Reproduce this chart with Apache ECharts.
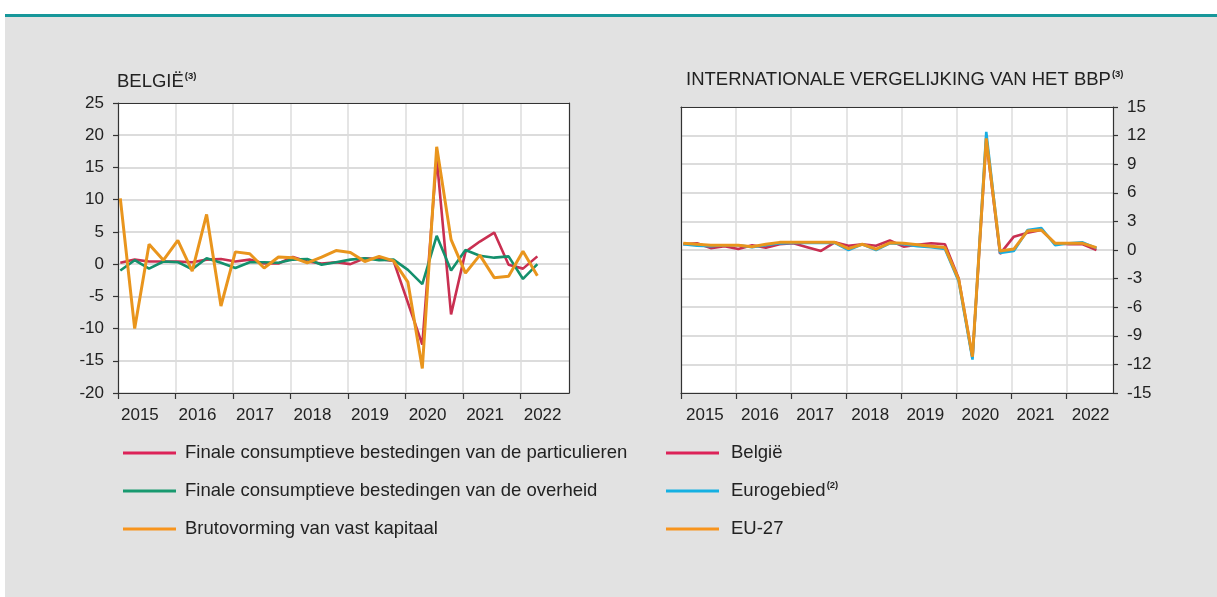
<!DOCTYPE html>
<html>
<head>
<meta charset="utf-8">
<script src="https://cdn.jsdelivr.net/npm/echarts@6/dist/echarts.min.js"></script>
<style>
  html, body { margin: 0; padding: 0; width: 1217px; height: 597px; background: #fff; overflow: hidden; }
  #bg { position: absolute; left: 5px; top: 14px; right: 0; bottom: 0; border-top: 3px solid #17979a; background: #e2e2e2; }
  #chart { position: absolute; left: 0; top: 0; width: 1217px; height: 597px; }
</style>
</head>
<body>
<div id="bg"></div>
<div id="chart"></div>
<script>
// ---------- data ----------
const quartersBE = ['2015K1','2015K2','2015K3','2015K4','2016K1','2016K2','2016K3','2016K4',
  '2017K1','2017K2','2017K3','2017K4','2018K1','2018K2','2018K3','2018K4',
  '2019K1','2019K2','2019K3','2019K4','2020K1','2020K2','2020K3','2020K4',
  '2021K1','2021K2','2021K3','2021K4','2022K1','2022K2'];
const quartersINT = quartersBE.concat(['2022K3']);
const yearTicks = [2015, 2016, 2017, 2018, 2019, 2020, 2021, 2022];
const leftYTicks = { min: -20, max: 25, step: 5 };
const rightYTicks = { min: -15, max: 15, step: 3 };

const particulieren = [0.2, 0.7, 0.4, 0.4, 0.4, 0.3, 0.7, 0.8, 0.4, 0.7, 0.1, 0.1, 1.1, 0.4, 0.1, 0.3,
  0.0, 0.9, 0.8, 0.5, -6.0, -12.5, 16.5, -7.8, 1.9, 3.5, 4.9, -0.1, -0.7, 1.2];
const overheid = [-1.0, 0.6, -0.7, 0.4, 0.3, -0.8, 0.9, 0.2, -0.6, 0.3, 0.3, 0.2, 0.7, 0.8, -0.1, 0.3,
  0.7, 0.9, 0.6, 0.7, -0.9, -3.1, 4.4, -1.0, 2.2, 1.3, 1.0, 1.2, -2.3, 0.0];
const brutovorming = [10.2, -10.0, 3.1, 0.6, 3.7, -1.1, 7.7, -6.5, 1.9, 1.6, -0.6, 1.1, 1.0, 0.2, 1.1, 2.1,
  1.8, 0.4, 1.2, 0.5, -2.8, -16.2, 18.2, 3.8, -1.4, 1.4, -2.1, -1.9, 2.0, -1.8];

const belgie = [0.6, 0.7, 0.2, 0.4, 0.1, 0.5, 0.25, 0.6, 0.7, 0.3, -0.1, 0.8, 0.45, 0.6, 0.45, 1.0,
  0.35, 0.55, 0.7, 0.6, -3.0, -11.3, 11.5, -0.4, 1.4, 1.8, 2.1, 0.7, 0.6, 0.6, 0.0];
const eurogebied = [0.6, 0.45, 0.4, 0.5, 0.5, 0.3, 0.5, 0.7, 0.75, 0.75, 0.75, 0.75, 0.0, 0.6, 0.0, 0.7,
  0.6, 0.4, 0.3, 0.1, -3.3, -11.5, 12.4, -0.3, -0.1, 2.1, 2.3, 0.5, 0.7, 0.8, 0.2];
const eu27 = [0.7, 0.6, 0.5, 0.5, 0.5, 0.35, 0.6, 0.8, 0.8, 0.8, 0.8, 0.8, 0.15, 0.6, 0.1, 0.75,
  0.7, 0.55, 0.4, 0.25, -3.1, -11.2, 11.7, -0.1, 0.1, 2.0, 2.1, 0.7, 0.7, 0.7, 0.25];

const namesLeft = ['Finale consumptieve bestedingen van de particulieren',
  'Finale consumptieve bestedingen van de overheid', 'Brutovorming van vast kapitaal'];
const namesRight = ['België', 'Eurogebied', 'EU-27'];

// ---------- helpers ----------
const FONT = 'Liberation Sans, Arial, sans-serif';
const TXT = '#222';
function qx(label) {
  const y = parseInt(label.slice(0, 4), 10);
  const q = parseInt(label.slice(5), 10);
  return y + (q - 1) / 4 + 0.04;
}
function pairs(cats, vals) { return cats.map((c, i) => [qx(c), vals[i]]); }

const colRed = '#c92f51', colGreen = '#14906c', colOrange = '#e9951d', colBlue = '#18ade2';
const legRed = '#dc2258', legGreen = '#18996f', legOrange = '#f7941d', legBlue = '#15b0e2';

const grids = [
  { left: 118, top: 103, width: 451, height: 290, show: true, backgroundColor: '#fff', borderWidth: 0 },
  { left: 681, top: 107, width: 432, height: 286, show: true, backgroundColor: '#fff', borderWidth: 0 }
];
const XMAX = 2022.84;

function xMain(gi, pad) {
  return {
    type: 'value', gridIndex: gi, min: yearTicks[0], max: XMAX, interval: 1, position: 'bottom',
    axisLine: { show: true, onZero: false, lineStyle: { color: '#333', width: 1.2 } },
    axisTick: { show: true, length: 6, customValues: yearTicks, lineStyle: { color: '#333', width: 1.2 } },
    axisLabel: { customValues: yearTicks, formatter: v => String(v), align: 'left', padding: [0, 0, 0, pad],
      margin: 14, fontSize: 17, color: TXT, fontFamily: FONT },
    splitLine: { show: true, lineStyle: { color: '#dcdcdc', width: 1.5 } }
  };
}
function xTop(gi) {
  return { type: 'value', gridIndex: gi, min: yearTicks[0], max: XMAX, position: 'top', z: 5,
    axisLine: { show: true, onZero: false, lineStyle: { color: '#333', width: 1.2 } },
    axisTick: { show: false }, axisLabel: { show: false }, splitLine: { show: false } };
}
function yMain(gi, t, pos, margin) {
  return {
    type: 'value', gridIndex: gi, min: t.min, max: t.max, interval: t.step, position: pos,
    axisLine: { show: true, onZero: false, lineStyle: { color: '#333', width: 1.2 } },
    axisTick: { show: true, length: 5, lineStyle: { color: '#333', width: 1.2 } },
    axisLabel: { margin: margin, fontSize: 17, color: TXT, fontFamily: FONT },
    splitLine: { show: true, lineStyle: { color: '#dcdcdc', width: 2 } }
  };
}
function yBorder(gi, t, pos) {
  return { type: 'value', gridIndex: gi, min: t.min, max: t.max, position: pos, z: 5,
    axisLine: { show: true, onZero: false, lineStyle: { color: '#333', width: 1.2 } },
    axisTick: { show: false }, axisLabel: { show: false }, splitLine: { show: false } };
}

function lineSeries(name, xi, yi, cats, vals, color, w) {
  return { name, type: 'line', xAxisIndex: xi, yAxisIndex: yi, data: pairs(cats, vals),
    showSymbol: false, symbol: 'none', lineStyle: { color, width: w }, itemStyle: { color },
    emphasis: { disabled: true }, animation: false };
}

const supRich = {
  a: { fontSize: 18.5, fontWeight: 'normal', color: TXT, fontFamily: FONT, lineHeight: 22 },
  s: { fontSize: 9.5, fontWeight: 'bold', color: TXT, fontFamily: FONT, verticalAlign: 'top', lineHeight: 14, padding: [0, 0, 0, 1] }
};

const chart = echarts.init(document.getElementById('chart'), null, { renderer: 'canvas' });
chart.setOption({
  backgroundColor: 'transparent',
  animation: false,
  title: [
    { text: '{a|BELGIË}{s|(3)}', left: 117, top: 71, padding: 0,
      textStyle: { fontWeight: 'normal', fontSize: 18.5, rich: supRich } },
    { text: '{a|INTERNATIONALE VERGELIJKING VAN HET BBP}{s|(3)}', left: 686, top: 69, padding: 0,
      textStyle: { fontWeight: 'normal', fontSize: 18.5, rich: supRich } }
  ],
  grid: grids,
  xAxis: [xMain(0, 3), xTop(0), xMain(1, 5), xTop(1)],
  yAxis: [yMain(0, leftYTicks, 'left', 14), yBorder(0, leftYTicks, 'right'),
          yMain(1, rightYTicks, 'right', 14), yBorder(1, rightYTicks, 'left')],
  legend: [
    { data: namesLeft.map((n, i) => ({ name: n, itemStyle: { color: [legRed, legGreen, legOrange][i] } })),
      orient: 'vertical', left: 123, top: 442, padding: 0, itemWidth: 53, itemHeight: 3, itemGap: 16, icon: 'rect',
      selectedMode: false, textStyle: { fontSize: 18.5, color: TXT, fontFamily: FONT, lineHeight: 22, padding: [0, 0, 0, 4] } },
    { data: namesRight.map((n, i) => ({ name: n, itemStyle: { color: [legRed, legBlue, legOrange][i] } })),
      orient: 'vertical', left: 666, top: 442, padding: 0, itemWidth: 53, itemHeight: 3, itemGap: 16, icon: 'rect',
      selectedMode: false,
      formatter: n => n === 'Eurogebied' ? '{a|Eurogebied}{s|(2)}' : '{a|' + n + '}',
      textStyle: { fontSize: 18.5, color: TXT, fontFamily: FONT, lineHeight: 22, padding: [0, 0, 0, 7], rich: supRich } }
  ],
  series: [
    lineSeries(namesLeft[0], 0, 0, quartersBE, particulieren, colRed, 2.6),
    lineSeries(namesLeft[1], 0, 0, quartersBE, overheid, colGreen, 2.6),
    lineSeries(namesLeft[2], 0, 0, quartersBE, brutovorming, colOrange, 3),
    lineSeries(namesRight[0], 2, 2, quartersINT, belgie, colRed, 2.6),
    lineSeries(namesRight[1], 2, 2, quartersINT, eurogebied, colBlue, 2.6),
    lineSeries(namesRight[2], 2, 2, quartersINT, eu27, colOrange, 3)
  ]
});
</script>
</body>
</html>
